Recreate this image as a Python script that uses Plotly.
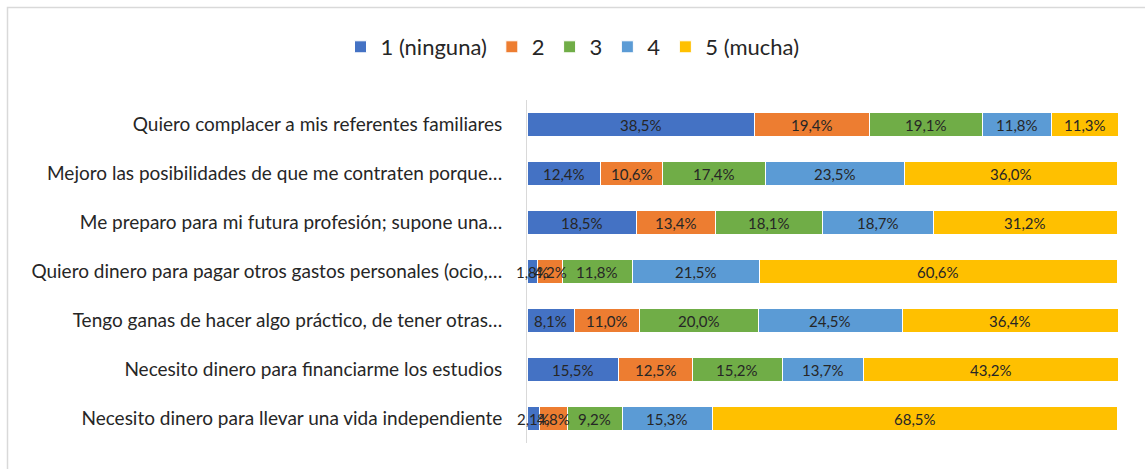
import plotly.graph_objects as go

categories = [
    "Quiero complacer a mis referentes familiares",
    "Mejoro las posibilidades de que me contraten porque…",
    "Me preparo para mi futura profesión; supone una…",
    "Quiero dinero para pagar otros gastos personales (ocio,…",
    "Tengo ganas de hacer algo práctico, de tener otras…",
    "Necesito dinero para financiarme los estudios",
    "Necesito dinero para llevar una vida independiente",
]
series_names = ["1 (ninguna)", "2", "3", "4", "5 (mucha)"]
s1 = [38.5, 12.4, 18.5, 1.8, 8.1, 15.5, 2.1]
s2 = [19.4, 10.6, 13.4, 4.2, 11.0, 12.5, 4.8]
s3 = [19.1, 17.4, 18.1, 11.8, 20.0, 15.2, 9.2]
s4 = [11.8, 23.5, 18.7, 21.5, 24.5, 13.7, 15.3]
s5 = [11.3, 36.0, 31.2, 60.6, 36.4, 43.2, 68.5]
colors = ["#4472C4", "#ED7D31", "#70AD47", "#5B9BD5", "#FFC000"]

FONT = "Lato"
TXT = "#262626"
fig = go.Figure()
all_series = [s1, s2, s3, s4, s5]
for name, vals, col in zip(series_names, all_series, colors):
    fig.add_trace(go.Bar(
        y=categories, x=vals, name=name, orientation="h",
        marker=dict(color=col, line=dict(color="white", width=1)),
        hoverinfo="x+name",
    ))

# value labels centred in each segment
annotations = []
cum = [0.0] * len(categories)
for vals in all_series:
    for i, v in enumerate(vals):
        annotations.append(dict(
            x=cum[i] + v / 2, y=categories[i], xref="x", yref="y",
            text=f"{v:.1f}%".replace(".", ","), showarrow=False,
            font=dict(family=FONT, size=15, color=TXT),
            xanchor="center", yanchor="middle",
        ))
        cum[i] += v

W, H = 1145, 469
L, R, T, B = 527, 27, 100, 26
pw, ph = W - L - R, H - T - B

def px_x(p):
    return (p - L) / pw

def px_y(p):
    return (H - B - p) / ph

fig.update_layout(
    width=W, height=H, barmode="stack", bargap=0.5,
    margin=dict(l=L, r=R, t=T, b=B, autoexpand=False),
    paper_bgcolor="white", plot_bgcolor="white",
    font=dict(family=FONT, color=TXT),
    annotations=annotations,
    legend=dict(orientation="h", xref="container", x=0.5, xanchor="center",
                yref="container", y=1 - 47 / H, yanchor="middle",
                font=dict(family=FONT, size=22, color=TXT),
                traceorder="normal", itemwidth=30),
    xaxis=dict(range=[0, 100], visible=False, fixedrange=True),
    yaxis=dict(categoryorder="array", categoryarray=categories[::-1],
               showline=True, linecolor="#d9d9d9", linewidth=1,
               ticks="", showgrid=False, ticklabelstandoff=20,
               automargin=False,
               tickfont=dict(family=FONT, size=19, color=TXT)),
    shapes=[dict(type="rect", xref="paper", yref="paper",
                 x0=px_x(7.5), x1=px_x(1160), y0=px_y(480), y1=px_y(7.5),
                 line=dict(color="#d9d9d9", width=1.5), layer="below")],
)
fig.write_html("out.html", config={"displayModeBar": False},
               post_script="document.body.style.margin='0';")
